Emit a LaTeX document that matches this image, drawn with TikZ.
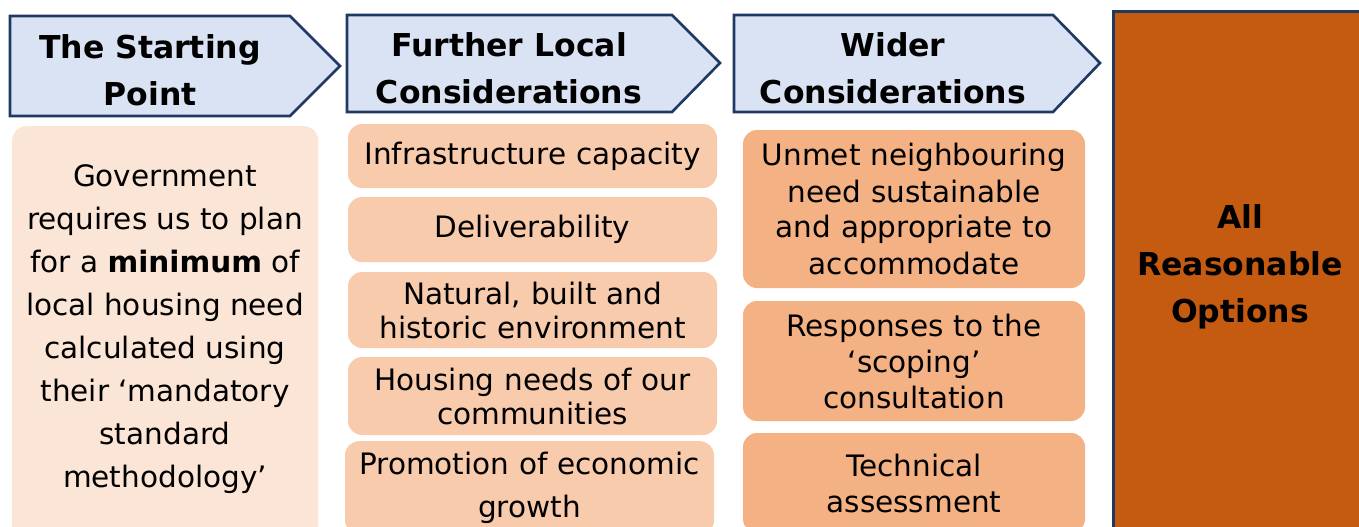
\documentclass[tikz,border=0pt]{standalone}
\usepackage{fontspec}
\setmainfont{DejaVu Sans}
\definecolor{navy}{HTML}{203864}
\definecolor{chev}{HTML}{DAE3F3}
\definecolor{pale}{HTML}{FBE5D6}
\definecolor{mid}{HTML}{F8CBAD}
\definecolor{deep}{HTML}{F4B183}
\definecolor{rust}{HTML}{C55A11}
\tikzset{
  chevron/.style={draw=navy, line width=2.6pt, fill=chev, line join=miter},
  headtxt/.style={font=\fontsize{31.5}{47}\selectfont\bfseries, align=center, inner sep=0pt},
  box/.style={rounded corners=14pt, inner sep=0pt, align=center},
  midbox/.style={box, fill=mid, minimum width=369pt, text width=365pt, font=\fontsize{29.5}{34}\selectfont},
  rightbox/.style={box, fill=deep, minimum width=342pt, text width=338pt, font=\fontsize{29.5}{36}\selectfont},
}
\begin{document}
\begin{tikzpicture}[x=1pt,y=-1pt]
\useasboundingbox (0,0) rectangle (1359,527);
% chevrons
\draw[chevron] (10,16) -- (290,16) -- (340,66) -- (290,116) -- (10,116) -- cycle;
\draw[chevron] (347,15) -- (672,15) -- (720,63) -- (672,112) -- (347,112) -- cycle;
\draw[chevron] (734,15) -- (1053,15) -- (1100,63) -- (1053,112) -- (734,112) -- cycle;
\node[headtxt] (h1) at (150,70) {The Starting\\Point};
\node[headtxt] (h2) at (509,68) {Further Local\\Considerations};
\node[headtxt] (h3) at (893,68) {Wider\\Considerations};
% final box
\node[draw=navy, line width=2.6pt, fill=rust, minimum width=250pt, minimum height=520pt, inner sep=0pt, anchor=north west] (opt) at (1112,10) {};
\node[font=\fontsize{31.5}{47}\selectfont\bfseries, align=center, inner sep=0pt] (optt) at (1240,267) {All\\Reasonable\\Options};
% left box
\node[box, fill=pale, minimum width=306pt, minimum height=420pt, anchor=north west] (start) at (12,126) {};
\node[font=\fontsize{29.5}{43}\selectfont, align=center, inner sep=0pt] (startt) at (165,329)
  {Government\\requires us to plan\\for a \textbf{minimum} of\\local housing need\\calculated using\\their ‘mandatory\\standard\\methodology’};
% middle boxes
\node[midbox, minimum height=64pt] (m1) at (532.5,156) {Infrastructure capacity};
\node[midbox, minimum height=65pt] (m2) at (532.5,229.5) {Deliverability};
\node[midbox, minimum height=76pt] (m3) at (532.5,310) {Natural, built and\\historic environment};
\node[midbox, minimum height=78pt] (m4) at (532.5,396) {Housing needs of our\\communities};
\node[midbox, minimum height=93pt, anchor=north, font=\fontsize{29.5}{43}\selectfont] (m5) at (529.5,441) {Promotion of economic\\growth};
% right boxes
\node[rightbox, minimum height=158pt] (r1) at (914,209) {Unmet neighbouring\\need sustainable\\and appropriate to\\accommodate};
\node[rightbox, minimum height=120pt] (r2) at (914,361) {Responses to the\\‘scoping’\\consultation};
\node[rightbox, minimum height=100pt] (r3) at (914,483) {Technical\\assessment};
\end{tikzpicture}
\end{document}
